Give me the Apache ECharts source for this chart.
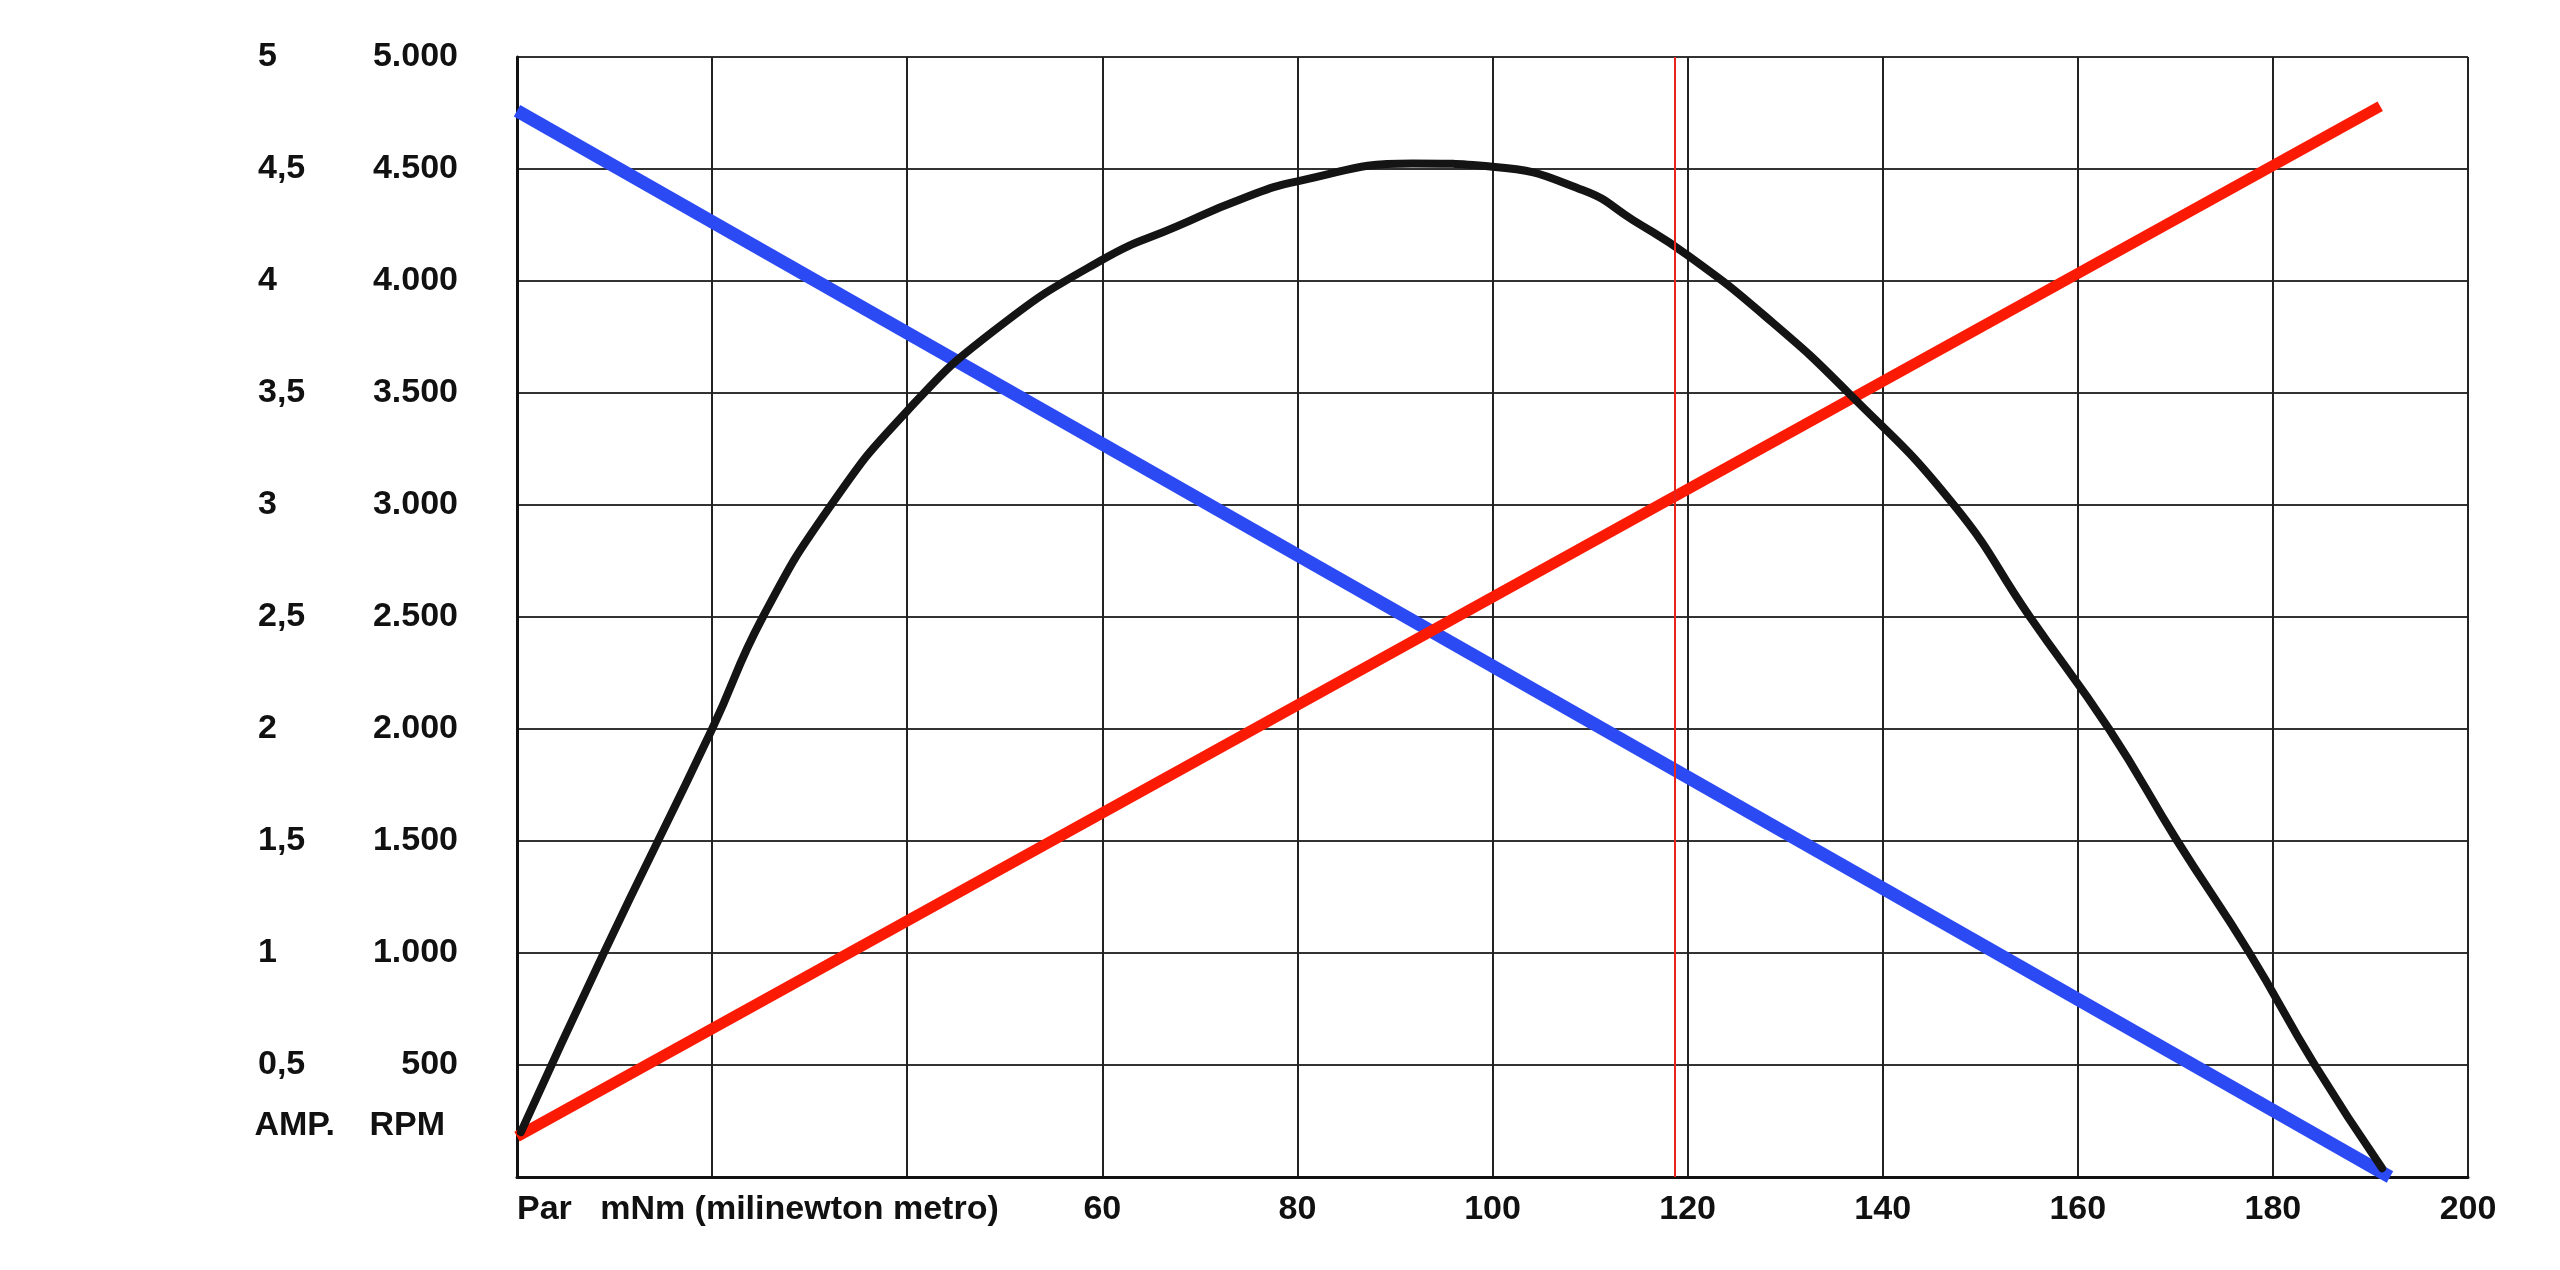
<!DOCTYPE html>
<html>
<head>
<meta charset="utf-8">
<title>Curva motor</title>
<script src="https://cdn.jsdelivr.net/npm/echarts@6/dist/echarts.min.js"></script>
<style>
  html, body { margin: 0; padding: 0; background: #fff; }
  #chart { width: 2560px; height: 1270px; }
</style>
</head>
<body>
<div id="chart"></div>
<script>
// torque (mNm) on x; RPM on the inner left axis, AMP on the outer one
const X_MIN = 0, X_MAX = 200, X_STEP = 20;
const RPM_MAX = 5000, RPM_STEP = 500;
const AMP_MAX = 5, AMP_STEP = 0.5;
const X_TITLE = "Par   mNm (milinewton metro)";
const MARK_X = 118.7;

// blue: speed (RPM)
const rpmLine = [[0, 4760], [192, 0]];
// red: current (AMP)
const ampLine = [[0, 0.18], [191, 4.78]];
// black curve, read in RPM-axis units (mostly where it crosses the grid)
const blackCurve = [
  [0.4, 200], [8.9, 1000], [20, 2000], [25.2, 2500], [32.2, 3000],
  [40, 3420], [48.8, 3775], [60, 4095], [67.7, 4245], [74.2, 4365],
  [80, 4445], [91.8, 4525], [100, 4510], [109.3, 4405], [114.4, 4272],
  [120, 4115], [128, 3841], [136.5, 3500], [147.3, 3000], [155.1, 2500],
  [163.2, 2000], [170.2, 1500], [177.6, 1000], [184.3, 500], [191.2, 39],
];

const FONT = "Liberation Sans";
const labelBase = { fontFamily: FONT, fontWeight: "bold", fontSize: 34, color: "#111" };

function fmtRpm(v) {
  if (v === 0) return "";
  if (v < 1000) return String(v);
  const th = Math.floor(v / 1000);
  const rest = String(v % 1000).padStart(3, "0");
  return `${th}.${rest}`;
}

function fmtAmp(v) {
  if (v === 0) return "";
  return String(v).replace(".", ",");
}

function fmtX(v) {
  if (v === 0) return X_TITLE;
  if (v === 20 || v === 40) return "";
  return String(v);
}

const chart = echarts.init(document.getElementById("chart"), null, { renderer: "canvas" });

chart.setOption({
  animation: false,
  backgroundColor: "#fff",
  grid: { left: 517, right: 92, top: 57, bottom: 93 },
  xAxis: {
    type: "value",
    min: X_MIN,
    max: X_MAX,
    interval: X_STEP,
    axisLine: { show: true, onZero: false, lineStyle: { color: "#111", width: 3 } },
    axisTick: { show: false },
    splitLine: { show: true, lineStyle: { color: "#222", width: 2 } },
    axisLabel: { ...labelBase, margin: 16, formatter: fmtX, alignMinLabel: "left" },
  },
  yAxis: [
    {
      type: "value",
      position: "left",
      min: 0,
      max: RPM_MAX,
      interval: RPM_STEP,
      name: "RPM",
      nameLocation: "start",
      nameGap: -51,
      nameTextStyle: { ...labelBase, align: "right", verticalAlign: "middle", padding: [0, 72, 0, 0] },
      axisLine: { show: true, lineStyle: { color: "#111", width: 3 } },
      axisTick: { show: false },
      splitLine: { show: true, lineStyle: { color: "#333", width: 2 } },
      axisLabel: {
        ...labelBase,
        margin: 59,
        align: "right",
        verticalAlign: "middle",
        padding: [0, 0, 26, 0],
        formatter: fmtRpm,
      },
    },
    {
      type: "value",
      position: "left",
      min: 0,
      max: AMP_MAX,
      interval: AMP_STEP,
      name: "AMP.",
      nameLocation: "start",
      nameGap: -51,
      nameTextStyle: { ...labelBase, align: "right", verticalAlign: "middle", padding: [0, 182, 0, 0] },
      axisLine: { show: false },
      axisTick: { show: false },
      splitLine: { show: false },
      axisLabel: {
        ...labelBase,
        margin: 259,
        align: "left",
        verticalAlign: "middle",
        padding: [0, 0, 26, 0],
        formatter: fmtAmp,
      },
    },
  ],
  series: [
    {
      name: "RPM",
      type: "line",
      yAxisIndex: 0,
      data: rpmLine,
      showSymbol: false,
      lineStyle: { color: "#2b4af4", width: 13 },
      z: 2,
    },
    {
      name: "AMP.",
      type: "line",
      yAxisIndex: 1,
      data: ampLine,
      showSymbol: false,
      lineStyle: { color: "#fb1a04", width: 11 },
      z: 3,
      markLine: {
        silent: true,
        symbol: "none",
        label: { show: false },
        lineStyle: { color: "#e8251c", width: 2, type: "solid" },
        data: [{ xAxis: MARK_X }],
      },
    },
    {
      name: "curva",
      type: "line",
      yAxisIndex: 0,
      data: blackCurve,
      showSymbol: false,
      smooth: 0.5,
      smoothConstraint: false,
      lineStyle: { color: "#141414", width: 8, cap: "round" },
      z: 4,
    },
  ],
});

window.addEventListener("resize", () => chart.resize());
</script>
</body>
</html>
